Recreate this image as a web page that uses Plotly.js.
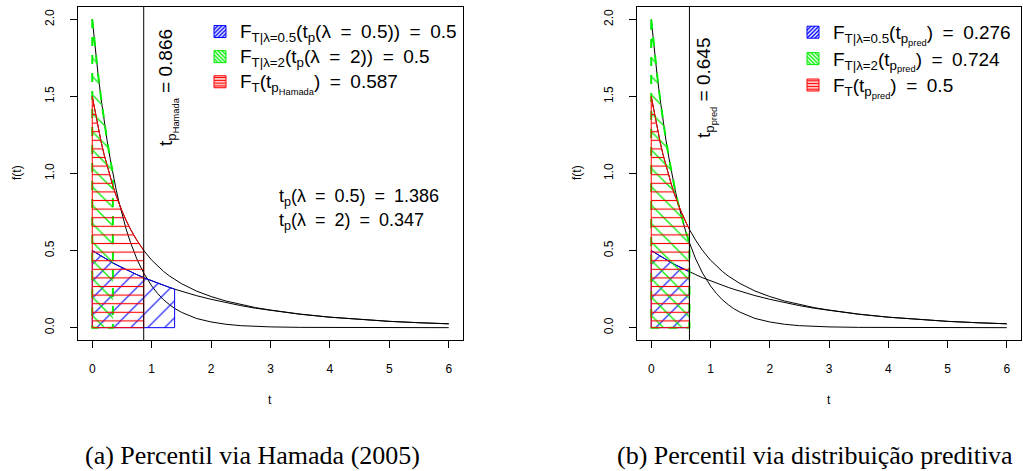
<!DOCTYPE html>
<html><head><meta charset="utf-8">
<script src="https://cdn.plot.ly/plotly-3.0.1.min.js"></script>
<style>html,body{margin:0;padding:0;background:#fff}#chart{width:1023px;height:471px}</style>
</head><body><div id="chart"></div>
<script>
// ---- data ----
const t = [0,0.05,0.1,0.15,0.2,0.25,0.3,0.347,0.4,0.45,0.5,0.575,0.645,0.75,0.866,1.0,1.1,1.2,1.3,1.386,1.5,1.75,2.0,2.25,2.5,2.75,3.0,3.5,4.0,4.5,5.0,5.5,6.0];
const densLambda2 = [2.000,1.810,1.637,1.482,1.341,1.213,1.098,0.999,0.899,0.813,0.736,0.633,0.551,0.446,0.354,0.271,0.222,0.181,0.149,0.125,0.100,0.060,0.037,0.022,0.013,0.008,0.005,0.002,0.001,0.000,0.000,0.000,0.000];
const densLambda05 = [0.500,0.488,0.476,0.463,0.452,0.441,0.430,0.420,0.409,0.399,0.389,0.375,0.362,0.344,0.324,0.303,0.288,0.274,0.261,0.250,0.236,0.208,0.184,0.162,0.143,0.126,0.112,0.087,0.068,0.053,0.041,0.032,0.025];
const densT = [1.500,1.393,1.295,1.204,1.122,1.048,0.979,0.920,0.858,0.806,0.757,0.692,0.637,0.567,0.501,0.438,0.399,0.365,0.335,0.313,0.286,0.238,0.202,0.173,0.150,0.130,0.114,0.088,0.068,0.053,0.041,0.032,0.025];
const tpHamada = 0.866, tpLambda05 = 1.386, tpLambda2 = 0.347, tpPred = 0.645;
const xTicks = [0,1,2,3,4,5,6];
const yTicks = [0,0.5,1,1.5,2];
const yTickText = ['0.0','0.5','1.0','1.5','2.0'];
const SP = '\u2002=\u2002';
const legendLeft = ['F<sub>T|λ=0.5</sub>(t<sub>p</sub>(λ' + SP + '0.5))' + SP + '0.5',
                    'F<sub>T|λ=2</sub>(t<sub>p</sub>(λ' + SP + '2))' + SP + '0.5',
                    'F<sub>T</sub>(t<sub>p<sub>Hamada</sub></sub>)' + SP + '0.587'];
const legendRight = ['F<sub>T|λ=0.5</sub>(t<sub>p<sub>pred</sub></sub>)' + SP + '0.276',
                     'F<sub>T|λ=2</sub>(t<sub>p<sub>pred</sub></sub>)' + SP + '0.724',
                     'F<sub>T</sub>(t<sub>p<sub>pred</sub></sub>)' + SP + '0.5'];

// ---- helpers ----
const W = 1023, H = 471;
const px = v => v / W, py = v => 1 - v / H;
const FONT = 'Liberation Sans, Arial, sans-serif';
function region(tEnd, dens) {
  const xs = [], ys = [];
  for (let i = 0; i < t.length && t[i] <= tEnd + 1e-9; i++) { xs.push(t[i]); ys.push(dens[i]); }
  xs.push(tEnd, 0, 0); ys.push(0, 0, dens[0]);
  return {x: xs, y: ys};
}
const traces = [];
function panel(xa, ya, tBlue, tGreen, tRed, legendId, labels) {
  [densLambda2, densLambda05, densT].forEach(d => traces.push({
    x: t, y: d, xaxis: xa, yaxis: ya, mode: 'lines', type: 'scatter',
    line: {color: '#000', width: 1}, showlegend: false, hoverinfo: 'skip'}));
  const b = region(tBlue, densLambda05);
  traces.push({x: b.x, y: b.y, xaxis: xa, yaxis: ya, mode: 'lines', fill: 'toself', type: 'scatter',
    line: {color: '#0000ff', width: 1}, fillcolor: '#0000ff',
    fillpattern: {shape: '/', fgcolor: '#0000ff', size: 12, solidity: 0.09}, showlegend: false, hoverinfo: 'skip'});
  const g = region(tGreen, densLambda2);
  traces.push({x: g.x, y: g.y, xaxis: xa, yaxis: ya, mode: 'lines', fill: 'toself', type: 'scatter',
    line: {color: '#00ee00', width: 2, dash: 'dash'}, fillcolor: '#00ee00',
    fillpattern: {shape: '\\', fgcolor: '#00ee00', size: 13, solidity: 0.1}, showlegend: false, hoverinfo: 'skip'});
  const r = region(tRed, densT);
  traces.push({x: r.x, y: r.y, xaxis: xa, yaxis: ya, mode: 'lines', fill: 'toself', type: 'scatter',
    line: {color: '#ff0000', width: 1}, fillcolor: '#ff0000',
    fillpattern: {shape: '-', fgcolor: '#ff0000', size: 8.6, solidity: 0.13}, showlegend: false, hoverinfo: 'skip'});
  const cols = ['#0000ff', '#00ee00', '#ff0000'], shapes = ['/', '\\', '-'];
  labels.forEach((lab, i) => traces.push({type: 'bar', x: [null], y: [null], xaxis: xa, yaxis: ya,
    name: '<span style="font-size:19px">' + lab + '</span>',
    legend: legendId, marker: {color: cols[i], line: {color: cols[i], width: 1},
    pattern: {shape: shapes[i], fgcolor: cols[i], size: 3.5, solidity: 0.5}}}));
}
panel('x', 'y', tpLambda05, tpLambda2, tpHamada, 'legend', legendLeft);
panel('x2', 'y2', tpPred, tpPred, tpPred, 'legend2', legendRight);

const axisCommon = {showline: true, mirror: true, linecolor: '#000', linewidth: 1, ticks: 'outside', ticklen: 7,
  tickcolor: '#000', tickwidth: 1, showgrid: false, zeroline: false, fixedrange: true,
  tickfont: {family: FONT, size: 12, color: '#000'}};
const yDom = [py(340), py(7)];
const xAx = (dom, anchor) => Object.assign({}, axisCommon, {domain: dom, anchor: anchor, range: [-0.24, 6.24],
  tickvals: xTicks, ticktext: xTicks.map(String), ticklabelstandoff: 11});
const yAx = (anchor) => Object.assign({}, axisCommon, {domain: yDom, anchor: anchor, range: [-0.08, 2.08],
  tickvals: yTicks, ticktext: yTickText, tickangle: -90, ticklabelstandoff: 11});

const ann = (text, x, y, opt) => Object.assign({text: text, x: px(x), y: py(y), xref: 'paper', yref: 'paper',
  showarrow: false, font: {family: FONT, size: 18, color: '#000'}, xanchor: 'center', yanchor: 'middle'}, opt || {});
const legendCommon = {bgcolor: 'rgba(0,0,0,0)', borderwidth: 0, xanchor: 'left', yanchor: 'top',
  itemwidth: 30, tracegroupgap: 0, itemclick: false};
const small = {family: FONT, size: 12, color: '#000'};
const capFont = {family: 'Liberation Serif, Times New Roman, serif', size: 26, color: '#000'};

const layout = {
  width: W, height: H, margin: {l: 0, r: 0, t: 0, b: 0}, paper_bgcolor: '#fff', plot_bgcolor: '#fff',
  showlegend: true,
  xaxis: xAx([px(78), px(463)], 'y'), yaxis: yAx('x'),
  xaxis2: xAx([px(637), px(1021)], 'y2'), yaxis2: yAx('x2'),
  legend: Object.assign({}, legendCommon, {x: px(200), y: py(14), font: {family: FONT, size: 17, color: '#000'}}),
  legend2: Object.assign({}, legendCommon, {x: px(793), y: py(14), font: {family: FONT, size: 18, color: '#000'}}),
  shapes: [
    {type: 'line', xref: 'x', yref: 'y domain', x0: tpHamada, x1: tpHamada, y0: 0, y1: 1, line: {color: '#000', width: 1}},
    {type: 'line', xref: 'x2', yref: 'y2 domain', x0: tpPred, x1: tpPred, y0: 0, y1: 1, line: {color: '#000', width: 1}}
  ],
  annotations: [
    ann('t<sub>p</sub>(λ' + SP + '0.5)' + SP + '1.386', 277, 197, {xanchor: 'left'}),
    ann('t<sub>p</sub>(λ' + SP + '2)' + SP + '0.347', 277, 221, {xanchor: 'left'}),
    ann('t<sub>p<sub>Hamada</sub></sub> = 0.866', 168, 88, {textangle: -90, font: {family: FONT, size: 19, color: '#000'}}),
    ann('t<sub>p<sub>pred</sub></sub> = 0.645', 706, 88, {textangle: -90, font: {family: FONT, size: 19, color: '#000'}}),
    ann('t', 270, 400, {font: small}),
    ann('t', 829, 400, {font: small}),
    ann('f(t)', 17, 173, {textangle: -90, font: small}),
    ann('f(t)', 577, 173, {textangle: -90, font: small}),
    ann('(a) Percentil via Hamada (2005)', 252, 455, {font: capFont}),
    ann('(b) Percentil via distribuição preditiva', 815, 455, {font: capFont})
  ]
};
Plotly.newPlot('chart', traces, layout, {staticPlot: true, displayModeBar: false});
</script></body></html>
